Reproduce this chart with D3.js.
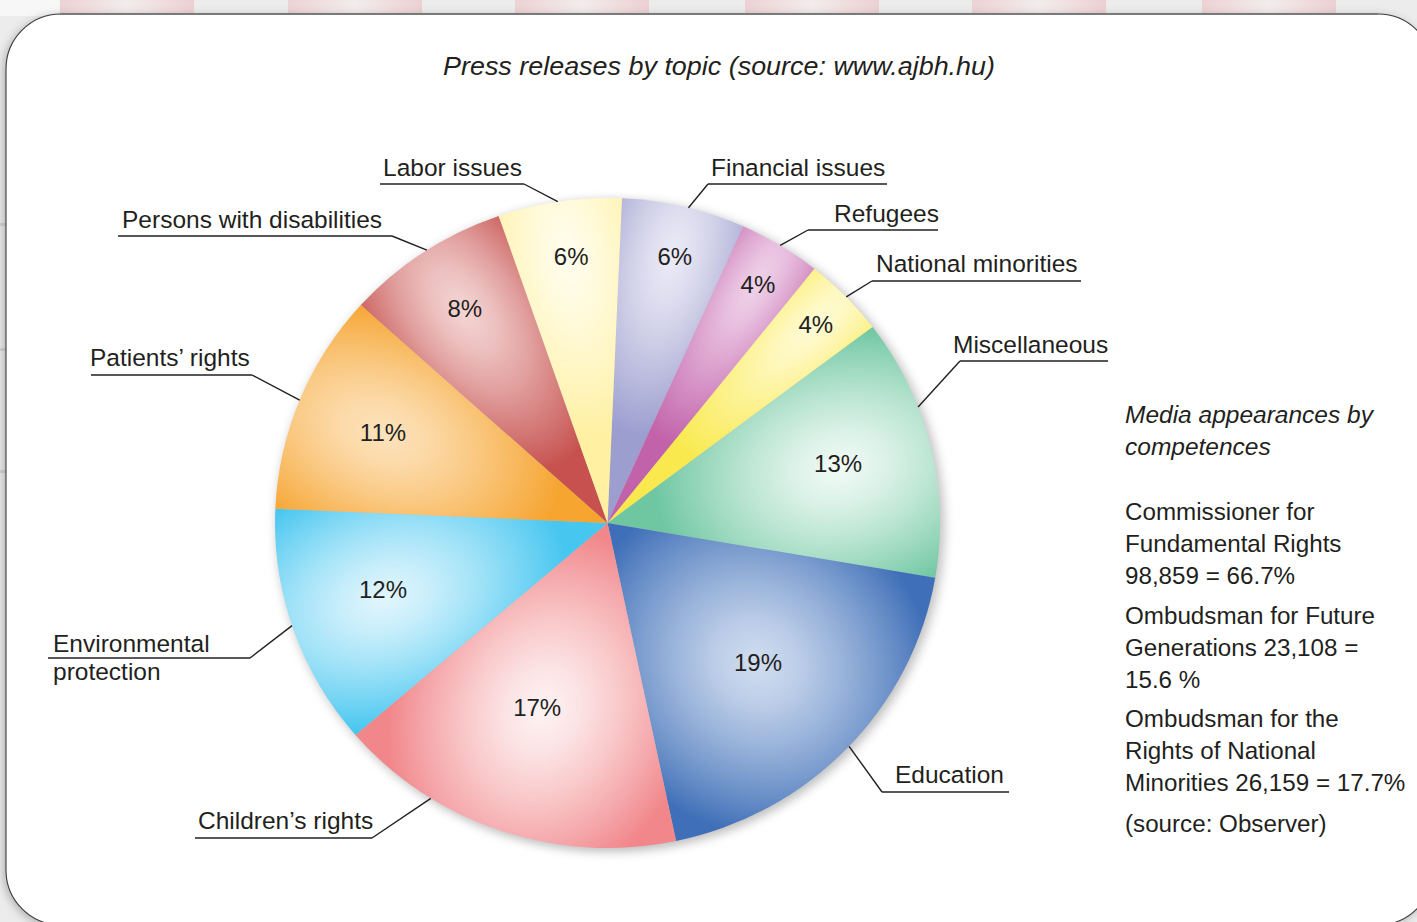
<!DOCTYPE html>
<html>
<head>
<meta charset="utf-8">
<script src="https://cdn.jsdelivr.net/npm/d3@7/dist/d3.min.js"></script>
<style>
  html, body { margin: 0; padding: 0; background: #ededed; }
  svg { display: block; }
  text { font-family: "Liberation Sans", Arial, Helvetica, sans-serif; fill: #231f20; }
</style>
</head>
<body>
<svg id="chart" width="1417" height="922"></svg>
<script>
// ---------- data ----------
const categories = ["Financial issues", "Refugees", "National minorities", "Miscellaneous", "Education",
  "Children’s rights", "Environmental protection", "Patients’ rights", "Persons with disabilities", "Labor issues"];
const values = [6, 4, 4, 13, 19, 17, 12, 11, 8, 6];
const pctLabels = ["6%", "4%", "4%", "13%", "19%", "17%", "12%", "11%", "8%", "6%"];
const title = "Press releases by topic (source: www.ajbh.hu)";
const sideTitle = ["Media appearances by", "competences"];
const sideLines = [
  ["Commissioner for", "Fundamental Rights", "98,859 = 66.7%"],
  ["Ombudsman for Future", "Generations 23,108 =", "15.6 %"],
  ["Ombudsman for the", "Rights of National", "Minorities 26,159 = 17.7%"],
  ["(source: Observer)"]
];

// ---------- styles / layout ----------
const sliceColors = ["#9c9ecf", "#c262aa", "#f9e94e", "#6fc7a2", "#3f6fb8", "#f1878b", "#47c6f0", "#f6a531", "#c6514e", "#fff0a2"];
const sliceLights = ["#ecebf6", "#efd3ea", "#fffbd6", "#f2fbf6", "#d2def0", "#fef4f4", "#e2f6fd", "#fde3be", "#f4d6d5", "#fffdee"];
const pctRadius = [0.843, 0.861, 0.874, 0.717, 0.625, 0.607, 0.706, 0.730, 0.786, 0.826];
const pctOffsetDeg = [0.6, 0.4, 0.1, -1.0, -0.3, 1.7, 2.1, 0, 0.4, 0.7];
const leaderOffsetDeg = [0.8, 0, 0.2, -7.2, -0.5, 13.4, 0.7, -0.1, 0.6, -0.3];
// label text layout: x, baseline(s), underline y, underline x1..x2, knee x
const labelLayout = [
  { x: 711, y: [176], uy: 184, ux1: 708, ux2: 887, kx: 708 },
  { x: 834, y: [222], uy: 230, ux1: 808, ux2: 938, kx: 808 },
  { x: 876, y: [272], uy: 281, ux1: 872, ux2: 1081, kx: 872 },
  { x: 953, y: [353], uy: 361, ux1: 960, ux2: 1108, kx: 960 },
  { x: 895, y: [783], uy: 792, ux1: 882, ux2: 1009, kx: 882 },
  { x: 198, y: [829], uy: 838, ux1: 195, ux2: 372, kx: 372 },
  { x: 53, y: [652, 680], uy: 658, ux1: 48, ux2: 250, kx: 250 },
  { x: 90, y: [366], uy: 375, ux1: 91, ux2: 252, kx: 252 },
  { x: 122, y: [228], uy: 236, ux1: 118, ux2: 392, kx: 392 },
  { x: 383, y: [176], uy: 184, ux1: 380, ux2: 524, kx: 524 }
];
const cx = 607.5, cy = 523, R = 325, sx = 1.023;
const startDeg = 2.5;
const topTabs = [60, 288, 515, 745, 972, 1202];

const svg = d3.select("#chart");
const defs = svg.append("defs");

// background
svg.append("rect").attr("width", 1417).attr("height", 922).attr("fill", "#ececec");
// top tabs
const tabGrad = defs.append("linearGradient").attr("id", "tabGrad");
tabGrad.append("stop").attr("offset", 0).attr("stop-color", "#ecd2d4");
tabGrad.append("stop").attr("offset", 0.5).attr("stop-color", "#f3ecec");
tabGrad.append("stop").attr("offset", 1).attr("stop-color", "#ecd0d2");
svg.append("rect").attr("x", 0).attr("y", 0).attr("width", 60).attr("height", 16).attr("fill", "#f7f7f7");
svg.selectAll("rect.tab").data(topTabs).join("rect").attr("class", "tab")
  .attr("x", d => d).attr("y", 0).attr("width", 134).attr("height", 16).attr("fill", "url(#tabGrad)");
svg.selectAll("rect.mark").data([223, 348, 470]).join("rect").attr("class", "mark")
  .attr("x", 0).attr("y", d => d).attr("width", 6).attr("height", 3).attr("fill", "#d6d6d6");

// card
const cardShadow = defs.append("filter").attr("id", "cardShadow").attr("x", "-5%").attr("y", "-5%").attr("width", "110%").attr("height", "110%");
cardShadow.append("feDropShadow").attr("dx", -2).attr("dy", 2).attr("stdDeviation", 4).attr("flood-color", "#000").attr("flood-opacity", 0.25);
svg.append("rect").attr("x", 6).attr("y", 14).attr("width", 1427).attr("height", 911).attr("rx", 55)
  .attr("fill", "#fff").attr("stroke", "#3a3a3a").attr("stroke-width", 1.1).attr("filter", "url(#cardShadow)");
svg.append("line").attr("x1", 60).attr("x2", 1378).attr("y1", 14).attr("y2", 14)
  .attr("stroke", "#7a7a7a").attr("stroke-width", 2.2);

// title
svg.append("text").attr("x", 443).attr("y", 75)
  .attr("font-size", 25).attr("font-style", "italic")
  .attr("textLength", 552).attr("lengthAdjust", "spacingAndGlyphs").text(title);

// pie
const pie = d3.pie().sort(null).value(d => d)
  .startAngle(startDeg * Math.PI / 180).endAngle(startDeg * Math.PI / 180 + 2 * Math.PI);
const arcs = pie(values);
const arc = d3.arc().innerRadius(0).outerRadius(R);
const polar = (a, r) => [Math.sin(a) * r, -Math.cos(a) * r];
const deg = Math.PI / 180;

const pieShadow = defs.append("filter").attr("id", "pieShadow").attr("x", "-20%").attr("y", "-20%").attr("width", "140%").attr("height", "140%");
pieShadow.append("feGaussianBlur").attr("stdDeviation", 5);

const g = svg.append("g").attr("transform", `translate(${cx},${cy}) scale(${sx},1)`);
g.append("circle").attr("cx", 3).attr("cy", 3).attr("r", R + 1).attr("fill", "#8a8a8a")
  .attr("opacity", 0.55).attr("filter", "url(#pieShadow)");

arcs.forEach((d, i) => {
  const a = (d.startAngle + d.endAngle) / 2;
  const half = (d.endAngle - d.startAngle) / 2;
  const dist = R * pctRadius[i];
  const [px, py] = polar(a, dist);
  const along = R * 0.56;
  const across = Math.min(along, dist * Math.sin(half) * 1.25 + 22);
  const rot = a * 180 / Math.PI - 90;
  const gr = defs.append("radialGradient").attr("id", "sg" + i)
    .attr("gradientUnits", "userSpaceOnUse").attr("cx", 0).attr("cy", 0).attr("r", 1)
    .attr("gradientTransform", `translate(${px},${py}) rotate(${rot}) scale(${along},${across})`);
  const interp = d3.interpolateRgb(sliceLights[i], sliceColors[i]);
  [0, 0.25, 0.5, 0.75, 1].forEach(t => {
    gr.append("stop").attr("offset", t).attr("stop-color", interp(Math.pow(t, 1.3)));
  });
});

g.selectAll("path.slice").data(arcs).join("path").attr("class", "slice")
  .attr("d", arc).attr("fill", (d, i) => `url(#sg${i})`);

// percent labels (outside the scaled group so glyphs are not stretched)
const pctPos = (d, i) => {
  const a = (d.startAngle + d.endAngle) / 2 + pctOffsetDeg[i] * deg;
  const [x, y] = polar(a, R * pctRadius[i]);
  return [cx + x * sx, cy + y];
};
svg.append("g").selectAll("text.pct").data(arcs).join("text").attr("class", "pct")
  .attr("x", (d, i) => pctPos(d, i)[0])
  .attr("y", (d, i) => pctPos(d, i)[1])
  .attr("dy", "0.35em").attr("text-anchor", "middle").attr("font-size", 24)
  .text((d, i) => pctLabels[i]);

// leader lines and category labels
const lg = svg.append("g");
arcs.forEach((d, i) => {
  const L = labelLayout[i];
  const a = (d.startAngle + d.endAngle) / 2 + leaderOffsetDeg[i] * deg;
  const [ex, ey] = polar(a, R);
  lg.append("line").attr("x1", L.ux1).attr("x2", L.ux2).attr("y1", L.uy).attr("y2", L.uy)
    .attr("stroke", "#231f20").attr("stroke-width", 1.4);
  lg.append("line").attr("x1", L.kx).attr("y1", L.uy).attr("x2", cx + ex * sx).attr("y2", cy + ey)
    .attr("stroke", "#231f20").attr("stroke-width", 1.4);
  const words = categories[i] === "Environmental protection" ? ["Environmental", "protection"] : [categories[i]];
  words.forEach((w, k) => {
    lg.append("text").attr("x", L.x).attr("y", L.y[k]).attr("font-size", 24.5).text(w);
  });
});

// side text
const side = svg.append("g");
sideTitle.forEach((t, k) => {
  side.append("text").attr("x", 1125).attr("y", 423 + k * 32).attr("font-size", 24.5)
    .attr("font-style", "italic").text(t);
});
const blockTops = [520, 624, 727, 832];
sideLines.forEach((blk, b) => {
  blk.forEach((t, k) => {
    side.append("text").attr("x", 1125).attr("y", blockTops[b] + k * 32).attr("font-size", 24.2).text(t);
  });
});
</script>
</body>
</html>
